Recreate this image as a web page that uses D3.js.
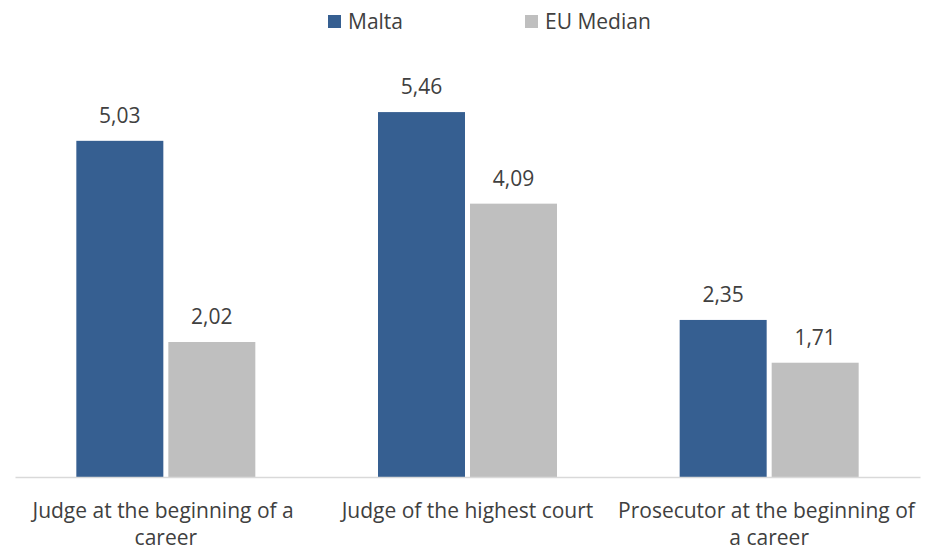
<!DOCTYPE html>
<html><head><meta charset="utf-8">
<script src="https://cdn.jsdelivr.net/npm/d3@7"></script>
<style>body{margin:0;background:#fff}svg{display:block}text{font-family:"Open Sans","Liberation Sans",Arial,sans-serif;fill:#404040;white-space:pre}</style>
</head><body>
<svg id="c" width="940" height="550"></svg>
<script>
const categories = ["Judge at the beginning of a career", "Judge of the highest court", "Prosecutor at the beginning of a career"];
const categoryLines = [["Judge at the beginning of a ", "career"], ["Judge of the highest court"], ["Prosecutor at the beginning of ", "a career"]];
const seriesNames = ["Malta", "EU Median"];
const malta = [5.03, 5.46, 2.35];
const euMedian = [2.02, 4.09, 1.71];
const colors = ["#365f91", "#bfbfbf"];

const svg = d3.select("#c");
const x0 = d3.scaleBand().domain(categories).range([15, 920]).padding(0);
const groupW = 179;
const x1 = d3.scaleBand().domain(seriesNames).range([0, groupW]).paddingInner(5/92).paddingOuter(0);
const y = d3.scaleLinear().domain([0, 6]).range([477, 76]);
const fmt = v => d3.format(".2f")(v).replace(".", ",");
const data = [malta, euMedian];

const g = svg.append("g");
categories.forEach((c, i) => {
  const gx = x0(c) + (x0.bandwidth() - groupW) / 2;
  seriesNames.forEach((s, j) => {
    const v = data[j][i];
    g.append("rect").attr("x", gx + x1(s)).attr("y", y(v)).attr("width", x1.bandwidth()).attr("height", y(0) - y(v)).attr("fill", colors[j]);
    g.append("text").attr("x", gx + x1(s) + x1.bandwidth()/2).attr("y", y(v) - 18).attr("text-anchor", "middle").attr("font-size", 21).text(fmt(v));
  });
});

// axis
const ax = svg.append("g").attr("transform", `translate(0,${y(0)})`).call(d3.axisBottom(x0).tickSize(0).tickFormat(""));
ax.select(".domain").attr("stroke", "#d9d9d9").attr("stroke-width", 1.5);
categories.forEach((c, i) => {
  const t = svg.append("text").attr("x", x0(c) + x0.bandwidth()/2).attr("y", 518).attr("text-anchor", "middle").attr("font-size", 21);
  categoryLines[i].forEach((ln, k) => t.append("tspan").attr("x", x0(c) + x0.bandwidth()/2).attr("dy", k === 0 ? 0 : 27).text(ln));
});

// legend
const legX = [328, 525];
seriesNames.forEach((s, j) => {
  svg.append("rect").attr("x", legX[j]).attr("y", 15).attr("width", 13).attr("height", 13).attr("fill", colors[j]);
  svg.append("text").attr("x", legX[j] + 20).attr("y", 29).attr("font-size", 21).text(s);
});
</script>
</body></html>
